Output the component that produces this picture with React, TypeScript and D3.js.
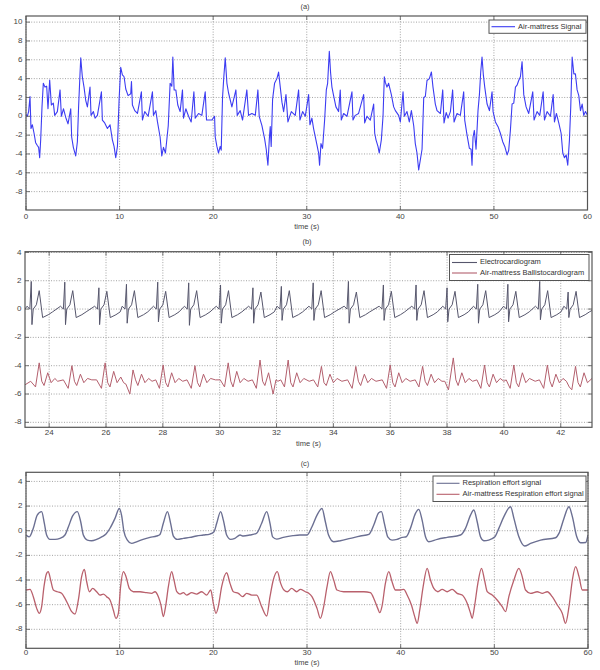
import React from "react";
import * as d3 from "d3";

type Pt = [number, number];

// ---------- Panel (a): Air-mattress signal ----------
const airMattressSignal: Pt[] = [
  [0,0.2],[0.14,0],[0.28,0.5],[0.43,2.1],[0.53,-1.3],[0.68,-0.9],[0.86,-1.8],[1.03,-2.8],[1.21,-3.1],[1.35,-3.3],[1.46,-4.4],[1.57,-2.5],[1.71,1.0],[1.85,3.5],[2.03,3.1],[2.21,3.2],[2.35,0.8],[2.53,3.85],[2.71,1.2],[2.92,1.4],[3.07,0.1],[3.35,0.5],[3.64,2.8],[3.78,0],[4.01,0.8],[4.24,-0.1],[4.49,-0.8],[4.78,0.8],[4.88,-2.2],[5.06,-3.3],[5.31,-4.2],[5.49,-2.7],[5.62,1.0],[5.78,4.7],[5.85,6.2],[6.02,4.2],[6.2,3.1],[6.38,1.7],[6.56,1.0],[6.84,3.1],[6.95,0.1],[7.2,0.5],[7.38,-0.2],[7.63,0.1],[8.06,2.6],[8.16,-0.4],[8.41,-0.7],[8.7,-1.3],[8.98,-0.9],[9.23,-2.5],[9.41,-3.2],[9.59,-4.4],[9.77,-3.2],[9.95,1.8],[10.12,5.2],[10.3,4.4],[10.48,4.2],[10.66,2.9],[10.91,2.2],[11.19,2.4],[11.27,3.7],[11.37,1.2],[11.62,0.6],[11.91,0.3],[12.33,2.6],[12.44,-0.4],[12.69,0.5],[13.05,0],[13.51,2.6],[13.62,0.1],[13.87,0.6],[14.05,-0.6],[14.33,-2.2],[14.51,-4.2],[14.69,-3.3],[14.9,-3.9],[15.2,-1.0],[15.4,3.5],[15.58,3.2],[15.69,6.3],[15.83,2.8],[16.01,2.8],[16.22,1.2],[16.47,0.5],[16.72,2.8],[16.83,-0.2],[17.08,0.8],[17.37,0],[17.65,-0.6],[17.94,2.6],[18.08,-0.2],[18.44,0.3],[18.79,0.1],[19.15,2.6],[19.29,-0.4],[19.5,-0.4],[19.86,-0.4],[20.15,0],[20.22,-2.2],[20.4,-3.2],[20.57,-3.9],[20.75,-3.2],[20.86,-3.6],[21.0,2.0],[21.14,4.2],[21.29,6.2],[21.47,3.5],[21.64,2.5],[22.0,1.0],[22.43,2.8],[22.57,0.1],[22.89,0.6],[23.14,-0.4],[23.6,2.8],[23.78,0.1],[24.14,0.3],[24.5,0.1],[24.78,2.8],[24.92,0],[25.21,-1.0],[25.5,-2.4],[25.67,-3.5],[25.85,-5.2],[26.0,-2.4],[26.1,-1.1],[26.2,-3.2],[26.35,1.8],[26.56,3.5],[26.81,4.0],[26.99,4.7],[27.17,3.1],[27.35,1.5],[27.53,0.5],[27.78,2.3],[27.99,-0.6],[28.35,0.5],[28.77,0.1],[29.13,2.8],[29.27,-0.4],[29.56,0.5],[29.84,0],[30.2,2.3],[30.34,-0.9],[30.55,-0.2],[30.73,-1.3],[30.98,-2.5],[31.27,-3.9],[31.37,-5.2],[31.52,-2.9],[31.69,-3.4],[31.91,-0.4],[32.09,2.8],[32.23,3.5],[32.41,6.9],[32.55,4.6],[32.69,3.1],[32.87,2.2],[33.12,1.0],[33.4,0.5],[33.58,2.8],[33.69,-0.4],[33.94,0.3],[34.3,0],[34.83,2.6],[34.94,-0.4],[35.19,0.1],[35.54,0.3],[36.08,2.3],[36.19,-0.7],[36.44,0],[36.79,-0.4],[37.15,1.3],[37.26,-1.8],[37.4,-2.5],[37.61,-3.2],[37.75,-3.9],[37.97,-2.5],[38.15,0],[38.29,4.2],[38.4,3.6],[38.57,3.1],[38.75,3.5],[39.04,2.3],[39.29,1.0],[39.47,0.6],[39.82,0.1],[40.0,-0.6],[40.29,2.6],[40.43,0],[40.71,0.5],[40.96,-0.6],[41.18,0.6],[41.43,-1.0],[41.6,-2.9],[41.78,-3.9],[41.96,-5.7],[42.14,-4.6],[42.32,-3.5],[42.5,2.0],[42.67,2.1],[42.85,3.8],[43.1,4.0],[43.32,4.7],[43.49,3.1],[43.74,1.3],[43.92,0.6],[44.28,0.3],[44.53,2.8],[44.67,-0.7],[44.9,0.4],[45.1,-0.2],[45.35,0.5],[45.59,2.8],[45.74,-0.6],[46.06,0.3],[46.41,0.1],[46.77,2.6],[46.88,-0.4],[47.13,-2.0],[47.38,-3.4],[47.56,-3.5],[47.66,-5.2],[47.77,-2.2],[47.91,-1.5],[48.09,-3.5],[48.3,0.6],[48.45,2.3],[48.59,4.7],[48.73,6.3],[48.87,4.4],[49.02,3.1],[49.27,1.3],[49.52,0.6],[49.8,2.6],[49.91,0.5],[50.16,-0.6],[50.44,-1.1],[50.69,-1.8],[50.94,-2.7],[51.16,-3.2],[51.41,-4.1],[51.58,-3.6],[51.76,-1.5],[51.94,1.3],[52.12,1.4],[52.3,3.1],[52.47,3.3],[52.65,3.8],[52.83,4.2],[53.01,5.8],[53.19,2.3],[53.44,1.0],[53.72,0.3],[54.15,2.6],[54.29,-0.4],[54.61,0.5],[54.9,0.1],[55.26,2.6],[55.4,-0.4],[55.68,0.5],[56.04,0],[56.33,2.3],[56.47,-0.6],[56.68,0.3],[56.93,-0.7],[57.18,-1.8],[57.36,-3.9],[57.54,-4.4],[57.72,-4.1],[57.89,-5.2],[58.07,-2.5],[58.21,1.0],[58.36,6.3],[58.54,4.5],[58.71,4.5],[58.89,2.8],[59.07,2.2],[59.25,0.6],[59.43,1.3],[59.6,0.1],[59.78,0.5],[60,0.1]
];

// ---------- Panel (b): ECG and ballistocardiogram ----------
const ecgSignal: Pt[] = [
  [23.15,0],
  [23.22,0.2],[23.32,0],[23.37,1.95],[23.395,-1.1],[23.44,0],[23.55,0.3],[23.65,1.3],[23.77,-0.6],[23.97,-0.4],[24.12,-0.2],
  [24.40,0.2],[24.50,0],[24.55,1.9],[24.575,-1.1],[24.62,0],[24.73,0.3],[24.83,1.3],[24.95,-0.6],[25.15,-0.4],[25.30,-0.2],
  [25.60,0.2],[25.70,0],[25.75,1.5],[25.775,-1.1],[25.82,0],[25.93,0.3],[26.03,1.25],[26.15,-0.6],[26.35,-0.4],[26.50,-0.2],
  [26.57,0.2],[26.67,0],[26.72,1.75],[26.745,-1.0],[26.79,0],[26.90,0.3],[27.00,1.3],[27.12,-0.6],[27.32,-0.4],[27.47,-0.2],
  [27.67,0.2],[27.77,0],[27.82,1.9],[27.845,-0.9],[27.89,0],[28.00,0.3],[28.10,1.25],[28.22,-0.6],[28.42,-0.4],[28.57,-0.2],
  [28.76,0.2],[28.86,0],[28.91,1.85],[28.935,-1.15],[28.98,0],[29.09,0.3],[29.19,1.3],[29.31,-0.6],[29.51,-0.4],[29.66,-0.2],
  [29.88,0.2],[29.98,0],[30.03,1.7],[30.055,-1.0],[30.10,0],[30.21,0.3],[30.31,1.3],[30.43,-0.6],[30.63,-0.4],[30.78,-0.2],
  [31.02,0.2],[31.12,0],[31.17,1.5],[31.195,-1.0],[31.24,0],[31.35,0.3],[31.45,1.2],[31.57,-0.6],[31.77,-0.4],[31.92,-0.2],
  [32.02,0.2],[32.12,0],[32.17,1.6],[32.195,-0.8],[32.24,0],[32.35,0.3],[32.45,1.3],[32.57,-0.6],[32.77,-0.4],[32.92,-0.2],
  [33.14,0.2],[33.24,0],[33.29,1.85],[33.315,-0.8],[33.36,0],[33.47,0.3],[33.57,1.3],[33.69,-0.6],[33.89,-0.4],[34.04,-0.2],
  [34.38,0.2],[34.48,0],[34.53,1.95],[34.555,-1.0],[34.60,0],[34.71,0.3],[34.81,1.2],[34.93,-0.6],[35.13,-0.4],[35.28,-0.2],
  [35.61,0.2],[35.71,0],[35.76,1.7],[35.785,-0.8],[35.83,0],[35.94,0.3],[36.04,1.25],[36.16,-0.6],[36.36,-0.4],[36.51,-0.2],
  [36.76,0.2],[36.86,0],[36.91,1.7],[36.935,-0.8],[36.98,0],[37.09,0.3],[37.19,1.3],[37.31,-0.6],[37.51,-0.4],[37.66,-0.2],
  [37.85,0.2],[37.95,0],[38.00,1.5],[38.025,-0.9],[38.07,0],[38.18,0.3],[38.28,1.25],[38.40,-0.6],[38.60,-0.4],[38.75,-0.2],
  [38.93,0.2],[39.03,0],[39.08,1.75],[39.105,-1.0],[39.15,0],[39.26,0.3],[39.36,1.3],[39.48,-0.6],[39.68,-0.4],[39.83,-0.2],
  [39.99,0.2],[40.09,0],[40.14,1.75],[40.165,-0.9],[40.21,0],[40.32,0.3],[40.42,1.25],[40.54,-0.6],[40.74,-0.4],[40.89,-0.2],
  [41.11,0.2],[41.21,0],[41.26,1.95],[41.285,-0.75],[41.33,0],[41.44,0.3],[41.54,1.3],[41.66,-0.6],[41.86,-0.4],[42.01,-0.2],
  [42.11,0.2],[42.21,0],[42.26,1.2],[42.285,-0.6],[42.33,0],[42.44,0.3],[42.54,1.25],[42.66,-0.6],[42.86,-0.4],[43.01,-0.2],[43.1,-0.1]
];

const bcgSignal: Pt[] = [
  [23.15,-5.35],
  [23.35,-5.1],[23.52,-5.5],[23.65,-3.8],[23.74,-5.1],[23.82,-5.4],[23.95,-4.5],[24.07,-5.2],[24.2,-4.9],[24.3,-5.1],
  [24.50,-5.0],[24.67,-5.6],[24.80,-4.0],[24.89,-5.1],[24.97,-5.4],[25.10,-4.6],[25.22,-5.2],[25.35,-4.9],[25.50,-5.0],
  [25.67,-5.0],[25.84,-5.6],[25.97,-3.8],[26.06,-5.2],[26.14,-5.5],[26.27,-4.4],[26.39,-5.2],[26.52,-4.8],[26.62,-5.2],
  [26.70,-5.3],[26.84,-6.0],[26.95,-4.3],[27.04,-5.0],[27.12,-5.4],[27.25,-4.6],[27.37,-5.2],[27.50,-4.9],[27.62,-5.1],
  [27.75,-5.0],[27.88,-5.6],[28.01,-3.95],[28.10,-5.2],[28.18,-5.5],[28.31,-4.5],[28.43,-5.2],[28.56,-4.9],[28.70,-5.1],
  [28.85,-5.0],[29.0,-5.6],[29.13,-4.0],[29.22,-5.2],[29.30,-5.5],[29.43,-4.6],[29.55,-5.2],[29.68,-4.9],[29.85,-5.0],
  [30.02,-5.0],[30.17,-5.5],[30.30,-3.8],[30.39,-5.1],[30.47,-5.5],[30.60,-4.4],[30.72,-5.2],[30.85,-4.9],[31.00,-5.1],
  [31.15,-5.0],[31.29,-5.6],[31.42,-3.6],[31.51,-5.1],[31.59,-5.4],[31.72,-4.5],[31.88,-6.0],[31.98,-5.0],[32.05,-5.1],
  [32.15,-5.0],[32.28,-5.5],[32.41,-3.6],[32.50,-5.2],[32.58,-5.5],[32.71,-4.5],[32.83,-5.2],[32.96,-4.9],[33.15,-5.1],
  [33.30,-5.0],[33.45,-5.5],[33.58,-4.05],[33.67,-5.2],[33.75,-5.4],[33.88,-4.6],[34.00,-5.2],[34.13,-4.9],[34.3,-5.1],
  [34.50,-5.0],[34.66,-5.6],[34.79,-4.05],[34.88,-5.1],[34.96,-5.4],[35.09,-4.6],[35.21,-5.2],[35.34,-4.9],[35.5,-5.1],
  [35.72,-5.0],[35.87,-5.6],[36.00,-3.95],[36.09,-5.2],[36.17,-5.5],[36.30,-4.5],[36.42,-5.2],[36.55,-4.9],[36.7,-5.1],
  [36.88,-5.0],[37.01,-5.5],[37.14,-4.05],[37.23,-5.1],[37.31,-5.4],[37.44,-4.6],[37.56,-5.2],[37.69,-4.9],[37.82,-5.1],
  [37.92,-5.1],[38.05,-5.7],[38.22,-3.45],[38.31,-5.0],[38.39,-5.4],[38.52,-4.5],[38.64,-5.2],[38.77,-4.9],[38.9,-5.1],
  [39.05,-5.0],[39.19,-5.6],[39.32,-3.95],[39.41,-5.2],[39.49,-5.5],[39.62,-4.6],[39.74,-5.2],[39.87,-4.9],[40.0,-5.1],
  [40.08,-5.0],[40.22,-5.6],[40.35,-3.95],[40.44,-5.2],[40.52,-5.5],[40.65,-4.5],[40.77,-5.2],[40.90,-4.9],[41.1,-5.1],
  [41.25,-5.0],[41.40,-5.6],[41.53,-3.95],[41.62,-5.1],[41.70,-5.5],[41.83,-4.6],[41.95,-5.2],[42.08,-4.9],[42.2,-5.1],
  [42.3,-5.5],[42.39,-5.7],[42.52,-4.05],[42.61,-5.2],[42.69,-5.5],[42.82,-4.5],[42.94,-5.2],[43.1,-4.9]
];

// ---------- Panel (c): respiration effort ----------
const respEffort: Pt[] = [
  [0,-0.35],[0.35,-0.5],[0.78,0.2],[1.2,1.27],[1.67,1.55],[1.96,0.6],[2.2,-0.35],[2.56,-0.7],[3.1,-0.7],[3.63,-0.62],[4.16,-0.35],[4.52,0.3],[4.98,1.2],[5.48,1.55],[5.84,0.73],[6.12,-0.35],[6.55,-0.76],[7.0,-0.81],[7.54,-0.7],[8.08,-0.5],[8.54,-0.27],[8.97,0.2],[9.5,1.0],[9.96,1.8],[10.2,1.27],[10.46,-0.08],[10.82,-0.76],[11.28,-1.03],[11.8,-0.9],[12.5,-0.7],[13.24,-0.54],[13.95,-0.43],[14.3,-0.3],[14.66,0.6],[15.1,1.55],[15.44,0.6],[15.73,-0.43],[16.16,-0.7],[16.8,-0.62],[17.5,-0.54],[18.2,-0.43],[18.93,-0.35],[19.64,-0.27],[20.07,-0.08],[20.36,0.6],[20.78,1.55],[21.07,0.86],[21.42,-0.35],[21.85,-0.7],[22.3,-0.62],[22.85,-0.35],[23.2,-0.43],[23.9,-0.35],[24.6,-0.22],[25.16,0.6],[25.7,1.55],[26.05,0.6],[26.33,-0.5],[26.76,-0.68],[27.47,-0.54],[28.5,-0.4],[29.25,-0.35],[30.0,-0.35],[30.53,0.32],[31.07,1.27],[31.6,1.8],[31.96,0.73],[32.3,-0.35],[32.85,-0.89],[33.56,-0.81],[34.63,-0.62],[35.7,-0.43],[36.6,-0.3],[37.13,0.46],[37.66,1.46],[37.95,1.55],[38.26,0.6],[38.62,-0.5],[39.08,-0.76],[39.62,-0.7],[40.15,-0.54],[40.6,-0.49],[41.04,0.19],[41.58,1.41],[41.93,1.73],[42.29,0.86],[42.65,-0.49],[43.0,-0.89],[43.9,-0.7],[44.96,-0.54],[46.39,-0.35],[46.92,0.19],[47.46,1.27],[47.81,1.68],[48.17,0.73],[48.52,-0.49],[48.88,-0.81],[49.4,-0.76],[50.06,-0.49],[50.48,0.19],[51.02,1.14],[51.73,1.95],[52.09,1.0],[52.62,-0.49],[53.23,-1.24],[53.87,-1.03],[54.94,-0.76],[56.54,-0.57],[56.9,-0.22],[57.43,1.0],[57.97,1.95],[58.33,1.14],[58.8,-0.49],[59.2,-0.97],[59.75,-0.95],[60,-0.35]
];

const airRespEffort: Pt[] = [
  [0,-4.81],[0.43,-4.76],[0.78,-5.35],[1.14,-6.3],[1.42,-6.7],[1.67,-6.16],[1.92,-4.54],[2.2,-3.46],[2.38,-3.32],[2.63,-4.0],[2.92,-4.81],[3.35,-4.95],[3.8,-5.08],[4.16,-5.49],[4.52,-6.03],[4.88,-6.57],[5.23,-6.76],[5.59,-5.62],[5.94,-3.73],[6.23,-3.14],[6.48,-4.14],[6.76,-4.95],[7.12,-4.68],[7.54,-4.95],[7.9,-5.22],[8.26,-5.14],[8.6,-5.35],[8.97,-5.62],[9.32,-6.43],[9.6,-7.11],[9.86,-6.7],[10.1,-4.54],[10.4,-3.32],[10.68,-3.73],[11.03,-4.68],[11.46,-4.95],[12.17,-4.95],[12.88,-5.03],[13.42,-5.08],[13.77,-4.95],[14.13,-5.35],[14.41,-6.03],[14.66,-6.97],[14.9,-6.16],[15.2,-4.54],[15.55,-3.32],[15.8,-4.0],[16.1,-4.95],[16.44,-5.14],[16.8,-5.03],[17.15,-5.22],[17.69,-5.03],[18.22,-5.14],[18.75,-4.95],[19.29,-5.22],[19.72,-4.81],[20.0,-5.89],[20.28,-6.7],[20.53,-6.16],[20.89,-4.54],[21.42,-3.41],[21.78,-4.27],[22.14,-4.95],[22.67,-5.08],[23.13,-5.35],[23.56,-5.08],[24.1,-5.22],[24.63,-5.22],[25.16,-6.16],[25.7,-6.92],[26.05,-5.35],[26.4,-4.0],[26.83,-3.32],[27.19,-4.27],[27.54,-4.81],[27.9,-4.95],[28.36,-4.68],[28.9,-4.95],[29.29,-4.76],[29.82,-4.95],[30.18,-5.08],[30.53,-5.35],[31.07,-6.3],[31.43,-7.11],[31.78,-6.16],[32.14,-4.54],[32.5,-3.32],[32.85,-4.0],[33.2,-4.81],[33.92,-4.95],[34.99,-4.95],[36.06,-4.95],[36.77,-5.03],[37.2,-5.62],[37.55,-6.3],[37.77,-6.65],[38.0,-6.16],[38.37,-4.27],[38.73,-3.32],[39.08,-4.14],[39.44,-4.81],[39.98,-4.81],[40.33,-4.76],[40.69,-5.22],[41.15,-6.03],[41.5,-6.97],[41.76,-7.51],[42.04,-6.43],[42.4,-4.54],[42.83,-3.05],[43.18,-4.0],[43.54,-4.68],[43.97,-4.95],[44.43,-4.76],[44.96,-4.95],[45.5,-4.76],[46.03,-5.08],[46.57,-5.22],[47.1,-5.89],[47.46,-6.7],[47.63,-7.11],[47.88,-6.16],[48.24,-4.27],[48.63,-3.05],[48.95,-4.0],[49.24,-4.95],[49.77,-5.22],[50.3,-5.62],[50.84,-6.16],[51.2,-6.57],[51.55,-5.35],[52.09,-4.0],[52.62,-3.05],[52.98,-3.73],[53.33,-4.81],[53.87,-5.08],[54.58,-4.95],[55.12,-5.08],[55.65,-4.95],[56.18,-5.35],[56.72,-6.03],[57.25,-6.7],[57.6,-7.51],[57.97,-6.16],[58.33,-4.0],[58.68,-2.92],[59.04,-3.73],[59.4,-4.81],[60,-4.81]
];

// ---------- Ticks and labels ----------
const ticksAX = [0, 10, 20, 30, 40, 50, 60];
const ticksAY = [10, 8, 6, 4, 2, 0, -2, -4, -6, -8];
const ticksBX = [24, 26, 28, 30, 32, 34, 36, 38, 40, 42];
const ticksBY = [4, 2, 0, -2, -4, -6, -8];
const ticksCX = [0, 10, 20, 30, 40, 50, 60];
const ticksCY = [4, 2, 0, -2, -4, -6, -8];

const legendA = ["Air-mattress Signal"];
const legendB = ["Electrocardiogram", "Air-mattress Ballistocardiogram"];
const legendC = ["Respiration effort signal", "Air-mattress Respiration effort signal"];
const xAxisLabel = "time (s)";

const FONT = "'Liberation Sans', Arial, Helvetica, sans-serif";

interface SeriesSpec { data: Pt[]; color: string; width: number; smooth: boolean; }
interface LegendSpec { labels: string[]; colors: string[]; x0: number; x1: number; y0: number; y1: number; lx0: number; lx1: number; tx: number; rows: number[]; }
interface PanelSpec {
  id: string; l: number; r: number; t: number; b: number;
  xDomain: [number, number]; yDomain: [number, number];
  xTicks: number[]; yTicks: number[];
  title: string; titleX: number; titleY: number;
  xTickY: number; xLabelY: number;
  series: SeriesSpec[]; legend: LegendSpec;
}

function Panel({ p }: { p: PanelSpec }) {
  const x = d3.scaleLinear().domain(p.xDomain).range([p.l, p.r]);
  const y = d3.scaleLinear().domain(p.yDomain).range([p.b, p.t]);
  const gridC = "#8c8c8c";
  const tickLen = 4;
  return (
    <g>
      <defs>
        <clipPath id={`clip-${p.id}`}>
          <rect x={p.l} y={p.t} width={p.r - p.l} height={p.b - p.t} />
        </clipPath>
      </defs>
      {p.xTicks.map((v) => (
        <line key={`gx${v}`} x1={x(v)} x2={x(v)} y1={p.t} y2={p.b} stroke={gridC} strokeWidth={0.8} strokeDasharray="1,1.6" />
      ))}
      {p.yTicks.map((v) => (
        <line key={`gy${v}`} x1={p.l} x2={p.r} y1={y(v)} y2={y(v)} stroke={gridC} strokeWidth={0.8} strokeDasharray="1,1.6" />
      ))}
      <g clipPath={`url(#clip-${p.id})`}>
        {p.series.map((s, i) => {
          const gen = d3.line<Pt>().x((d) => x(d[0])).y((d) => y(d[1])).curve(s.smooth ? d3.curveMonotoneX : d3.curveLinear);
          return <path key={i} d={gen(s.data) || ""} fill="none" stroke={s.color} strokeWidth={s.width} strokeLinejoin="round" />;
        })}
      </g>
      <rect x={p.l} y={p.t} width={p.r - p.l} height={p.b - p.t} fill="none" stroke="#555" strokeWidth={1.2} />
      {p.xTicks.map((v) => (
        <g key={`tx${v}`}>
          <line x1={x(v)} x2={x(v)} y1={p.b} y2={p.b - tickLen} stroke="#555" strokeWidth={0.8} />
          <line x1={x(v)} x2={x(v)} y1={p.t} y2={p.t + tickLen} stroke="#555" strokeWidth={0.8} />
          <text x={x(v)} y={p.xTickY} textAnchor="middle" dominantBaseline="middle" fontSize={8} fill="#444" fontFamily={FONT}>{v}</text>
        </g>
      ))}
      {p.yTicks.map((v) => (
        <g key={`ty${v}`}>
          <line x1={p.l} x2={p.l + tickLen} y1={y(v)} y2={y(v)} stroke="#555" strokeWidth={0.8} />
          <line x1={p.r} x2={p.r - tickLen} y1={y(v)} y2={y(v)} stroke="#555" strokeWidth={0.8} />
          <text x={p.l - 3.5} y={y(v)} textAnchor="end" dominantBaseline="middle" fontSize={8} fill="#444" fontFamily={FONT}>{v}</text>
        </g>
      ))}
      <text x={(p.l + p.r) / 2} y={p.xLabelY} textAnchor="middle" dominantBaseline="middle" fontSize={7.5} fill="#444" fontFamily={FONT}>{xAxisLabel}</text>
      <text x={p.titleX} y={p.titleY} textAnchor="middle" dominantBaseline="middle" fontSize={7.5} fill="#444" fontFamily={FONT}>{p.title}</text>
      <g>
        <rect x={p.legend.x0} y={p.legend.y0} width={p.legend.x1 - p.legend.x0} height={p.legend.y1 - p.legend.y0} fill="white" stroke="#555" strokeWidth={1} />
        {p.legend.labels.map((lab, i) => (
          <g key={lab}>
            <line x1={p.legend.lx0} x2={p.legend.lx1} y1={p.legend.rows[i]} y2={p.legend.rows[i]} stroke={p.legend.colors[i]} strokeWidth={1.1} />
            <text x={p.legend.tx} y={p.legend.rows[i]} dominantBaseline="middle" fontSize={7.5} fill="#333" fontFamily={FONT}>{lab}</text>
          </g>
        ))}
      </g>
    </g>
  );
}

const blue = "#3c3cf2";
const ecgColor = "#56566c";
const bcgColor = "#b35f6d";
const respColor = "#6b6f92";
const airRespColor = "#b9606c";

export default function App() {
  const panels: PanelSpec[] = [
    {
      id: "a", l: 26, r: 587.5, t: 16, b: 210,
      xDomain: [0, 60], yDomain: [-9.95, 10.65],
      xTicks: ticksAX, yTicks: ticksAY,
      title: "(a)", titleX: 305, titleY: 7,
      xTickY: 216.5, xLabelY: 227,
      series: [{ data: airMattressSignal, color: blue, width: 1.1, smooth: false }],
      legend: { labels: legendA, colors: [blue], x0: 489, x1: 586, y0: 20, y1: 33.3, lx0: 491.5, lx1: 515, tx: 518, rows: [26.7] },
    },
    {
      id: "b", l: 25, r: 592, t: 251.7, b: 427.3,
      xDomain: [23.15, 43.1], yDomain: [-8.35, 4.05],
      xTicks: ticksBX, yTicks: ticksBY,
      title: "(b)", titleX: 307, titleY: 241.7,
      xTickY: 433, xLabelY: 444.5,
      series: [
        { data: ecgSignal, color: ecgColor, width: 1, smooth: false },
        { data: bcgSignal, color: bcgColor, width: 1, smooth: false },
      ],
      legend: { labels: legendB, colors: [ecgColor, bcgColor], x0: 449.5, x1: 589, y0: 254.5, y1: 280.5, lx0: 452, lx1: 477, tx: 480, rows: [262.5, 273] },
    },
    {
      id: "c", l: 26, r: 588, t: 472.3, b: 648.3,
      xDomain: [0, 60], yDomain: [-9.54, 4.74],
      xTicks: ticksCX, yTicks: ticksCY,
      title: "(c)", titleX: 305, titleY: 464,
      xTickY: 652.8, xLabelY: 663.5,
      series: [
        { data: respEffort, color: respColor, width: 1.4, smooth: true },
        { data: airRespEffort, color: airRespColor, width: 1.3, smooth: true },
      ],
      legend: { labels: legendC, colors: [respColor, airRespColor], x0: 433, x1: 586, y0: 476, y1: 501.5, lx0: 436.5, lx1: 459.5, tx: 462.5, rows: [483.3, 494.3] },
    },
  ];
  return (
    <svg width={600} height={670} viewBox="0 0 600 670" style={{ position: "absolute", left: 0, top: 0, background: "white" }}>
      <rect x={0} y={0} width={600} height={670} fill="white" />
      {panels.map((p) => (
        <Panel key={p.id} p={p} />
      ))}
    </svg>
  );
}
